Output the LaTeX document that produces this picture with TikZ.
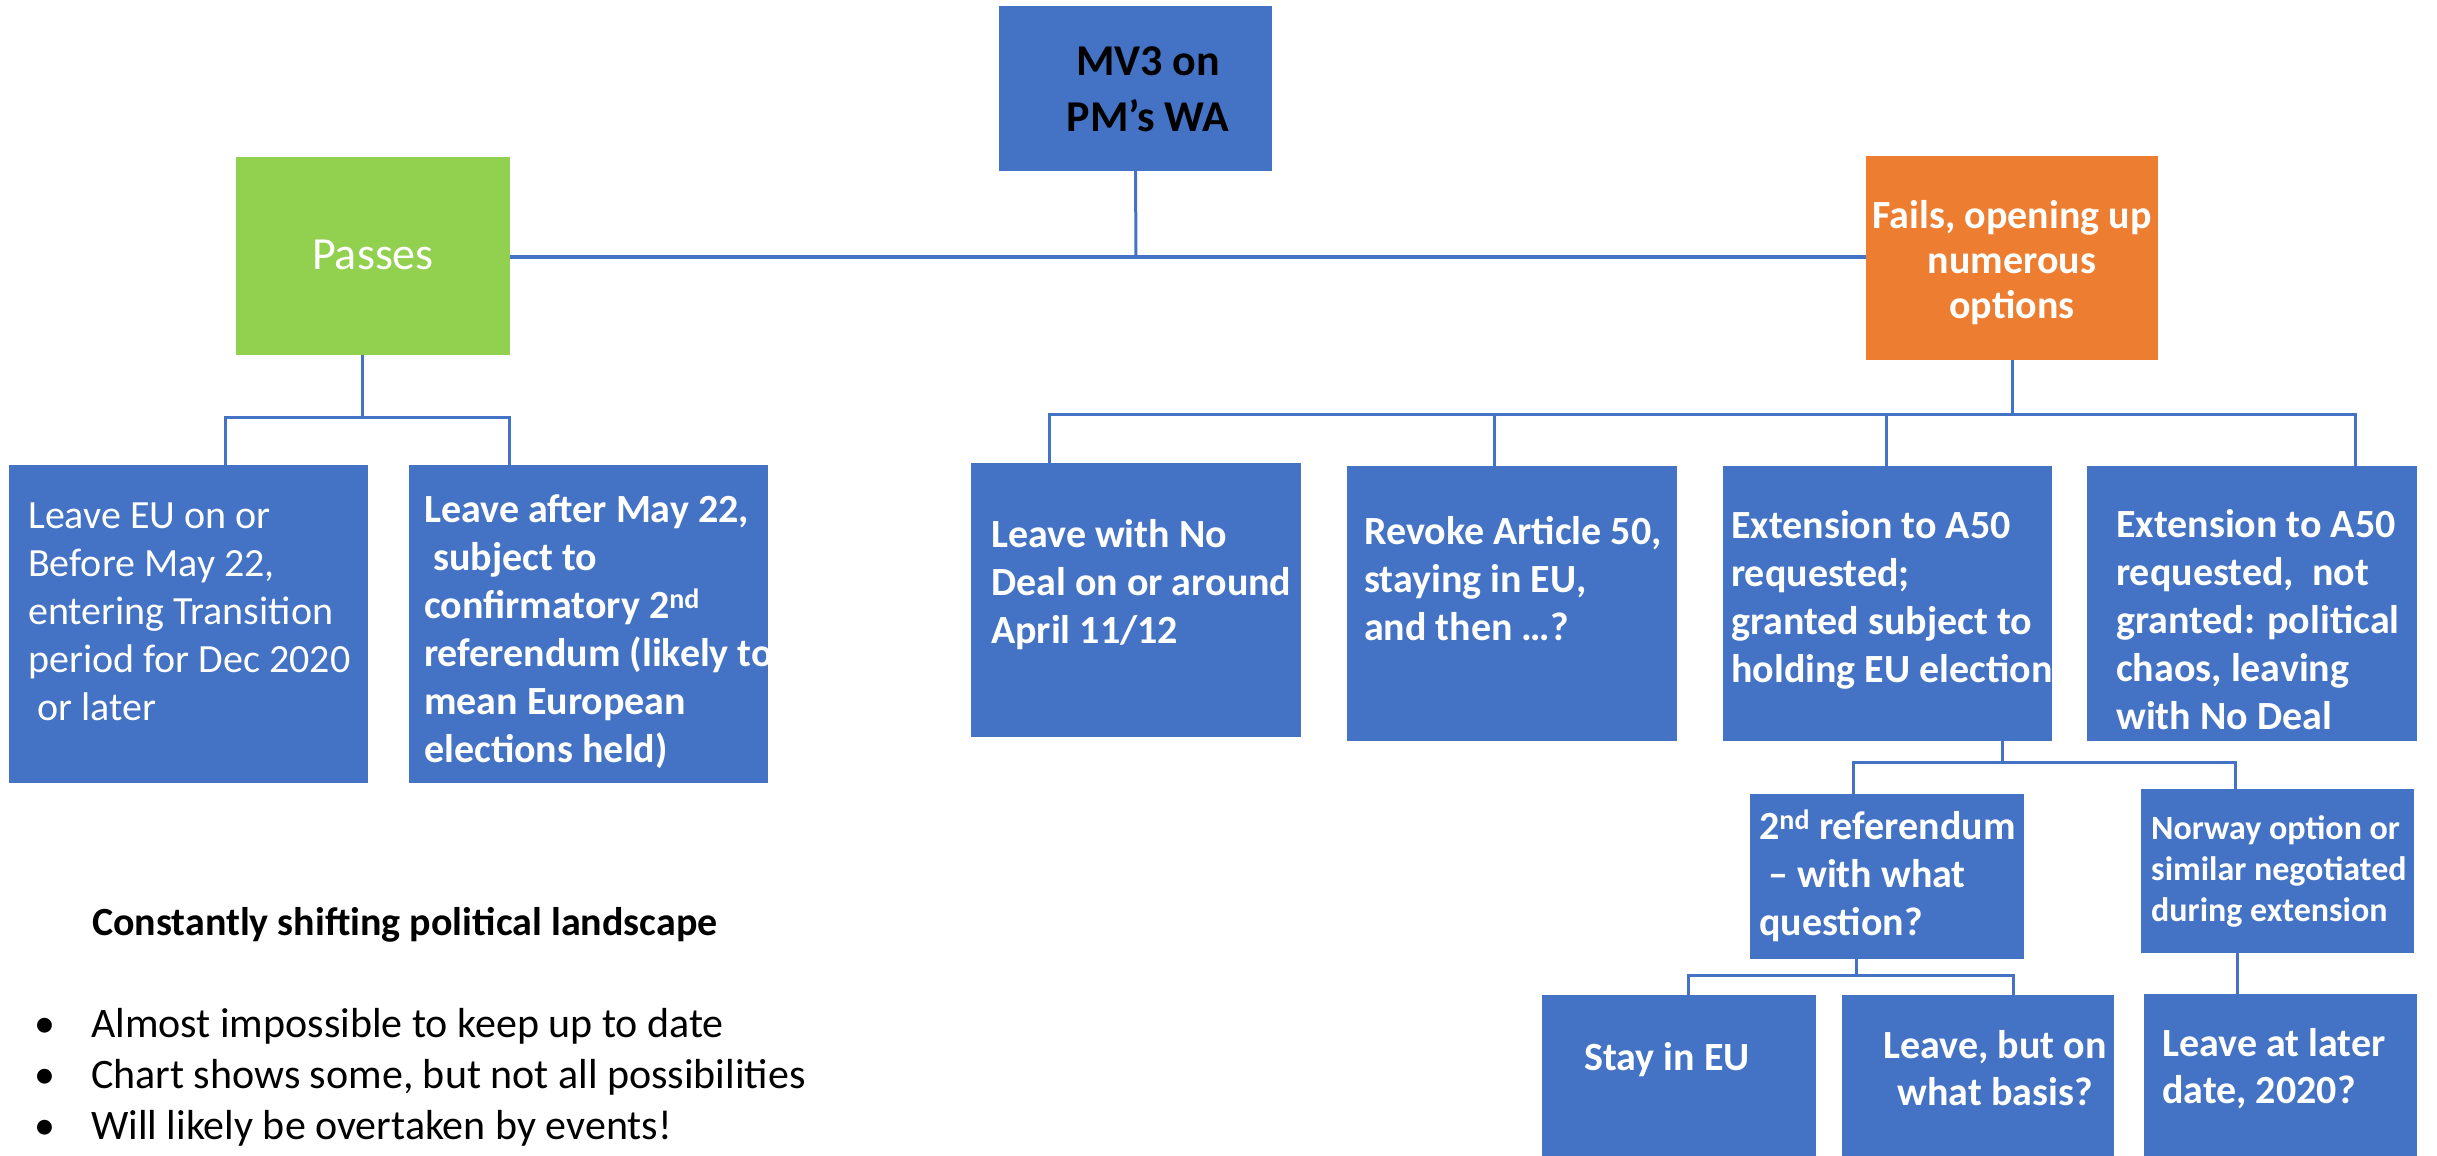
\documentclass[tikz,border=0pt]{standalone}
\usepackage{fontspec}
\setmainfont{Carlito}
\definecolor{obl}{HTML}{4472C4}
\definecolor{ogr}{HTML}{92D050}
\definecolor{oor}{HTML}{ED7D31}
\newcommand\mlL[1]{\begin{tabular}[t]{@{}l@{}}#1\end{tabular}}
\newcommand\mlC[1]{\begin{tabular}[t]{@{}c@{}}#1\end{tabular}}
\newcommand\fs[2]{\fontsize{#1}{#2}\selectfont}
\newcommand\bul{\makebox[57pt][l]{•}}
\tikzset{
  box/.style={rectangle, inner sep=0pt, outer sep=0pt, anchor=north west, fill=obl},
  wt/.style={anchor=base west, inner sep=0pt, text=white, font=\bfseries\fs{40}{48}},
  conn/.style={draw=obl, line width=3pt},
  mainconn/.style={draw=obl, line width=4pt},
}
\begin{document}
\begin{tikzpicture}[x=1pt,y=-1pt]
\useasboundingbox[fill=white] (0,0) rectangle (2437,1156);
% boxes
\node[box, minimum width=273pt, minimum height=165pt] (mv3) at (999,6) {};
\node[box, fill=ogr, minimum width=274pt, minimum height=198pt] (passes) at (236,157) {};
\node[box, fill=oor, minimum width=292pt, minimum height=204pt] (fails) at (1866,156) {};
\node[box, minimum width=359pt, minimum height=318pt] (boxA) at (9,465) {};
\node[box, minimum width=359pt, minimum height=318pt] (boxB) at (409,465) {};
\node[box, minimum width=330pt, minimum height=274pt] (boxC) at (971,463) {};
\node[box, minimum width=330pt, minimum height=275pt] (boxD) at (1347,466) {};
\node[box, minimum width=329pt, minimum height=275pt] (boxE) at (1723,466) {};
\node[box, minimum width=330pt, minimum height=275pt] (boxF) at (2087,466) {};
\node[box, minimum width=274pt, minimum height=165pt] (boxG) at (1750,794) {};
\node[box, minimum width=273pt, minimum height=164pt] (boxH) at (2141,789) {};
\node[box, minimum width=274pt, minimum height=161pt] (boxI) at (1542,995) {};
\node[box, minimum width=272pt, minimum height=161pt] (boxJ) at (1842,995) {};
\node[box, minimum width=273pt, minimum height=162pt] (boxK) at (2144,994) {};
% connector coordinates
\coordinate (mainy) at (1136,257);
\coordinate (pbar) at (362,417);
\coordinate (pa) at (225,417);
\coordinate (pb) at (509,417);
\coordinate (fbar) at (2012,414);
\coordinate (fc) at (1049,414);
\coordinate (fd) at (1494,414);
\coordinate (fe) at (1886,414);
\coordinate (ff) at (2355,414);
\coordinate (eb) at (2002,762);
\coordinate (eg) at (1853,762);
\coordinate (eh) at (2235,762);
\coordinate (gb) at (1856,975);
\coordinate (gi) at (1688,975);
\coordinate (gj) at (2013,975);
\coordinate (hb) at (2237,990);
% connectors
\draw[mainconn] (passes.east |- mainy) -- (fails.west |- mainy);
\draw[conn] (mv3.south) -- (mainy);
\draw[conn] (pbar |- passes.south) -- (pbar);
\draw[conn] (pa |- boxA.north) -- (pa) -- (pb) -- (pb |- boxB.north);
\draw[conn] (fails.south) -- (fbar);
\draw[conn] (fc |- boxC.north) -- (fc) -- (ff) -- (ff |- boxF.north);
\draw[conn] (fd) -- (fd |- boxD.north);
\draw[conn] (fe) -- (fe |- boxE.north);
\draw[conn] (eb |- boxE.south) -- (eb);
\draw[conn] (eg |- boxG.north) -- (eg) -- (eh) -- (eh |- boxH.north);
\draw[conn] (gb |- boxG.south) -- (gb);
\draw[conn] (gi |- boxI.north) -- (gi) -- (gj) -- (gj |- boxJ.north);
\draw[conn] (hb |- boxH.south) -- (hb |- boxK.north);
% texts
\node[anchor=base, inner sep=0pt, font=\bfseries\fs{44}{57}] (mv3t) at (1148,75) {\mlC{MV3 on\\PM’s WA}};
\node[anchor=base, inner sep=0pt, text=white, font=\fs{46}{55}] (passt) at (373,269) {Passes};
\node[anchor=base, inner sep=0pt, text=white, font=\bfseries\fs{40}{45}] (failst) at (2012,228) {\mlC{Fails, opening up\\numerous\\options}};
\node[wt, font=\fs{40}{48}] (tA) at (28,528) {\mlL{Leave EU on or\\Before May 22,\\entering Transition\\period for Dec 2020\\\ or later}};
\node[wt] (tB) at (424,522) {\mlL{Leave after May 22,\\\ subject to\\confirmatory 2\textsuperscript{nd}\\referendum (likely to\\mean European\\elections held)}};
\node[wt] (tC) at (991,547) {\mlL{Leave with No\\Deal on or around\\April 11/12}};
\node[wt] (tD) at (1364,544) {\mlL{Revoke Article 50,\\staying in EU,\\and then …?}};
\node[wt] (tE) at (1731,538) {\mlL{Extension to A50\\requested;\\granted subject to\\holding EU election}};
\node[wt] (tF) at (2116,537) {\mlL{Extension to A50\\requested,\ \ not\\granted: political\\chaos, leaving\\with No Deal}};
\node[wt] (tG) at (1759,839) {\mlL{2\textsuperscript{nd} referendum\\\ – with what\\question?}};
\node[wt, font=\bfseries\fs{34}{41}] (tH) at (2151,839) {\mlL{Norway option or\\similar negotiated\\during extension}};
\node[wt] (tI) at (1584,1070) {Stay in EU};
\node[wt, anchor=base, font=\bfseries\fs{40}{47}] (tJ) at (1995,1058) {\mlC{Leave, but on\\what basis?}};
\node[wt, font=\bfseries\fs{40}{47}] (tK) at (2162,1056) {\mlL{Leave at later\\date, 2020?}};
\node[anchor=base west, inner sep=0pt, font=\bfseries\fs{40}{48}] (title) at (92,935) {Constantly shifting political landscape};
\node[anchor=base west, inner sep=0pt, font=\fs{42}{51}] (bullets) at (34,1037) {\mlL{\bul Almost impossible to keep up to date\\\bul Chart shows some, but not all possibilities\\\bul Will likely be overtaken by events!}};
\end{tikzpicture}
\end{document}
